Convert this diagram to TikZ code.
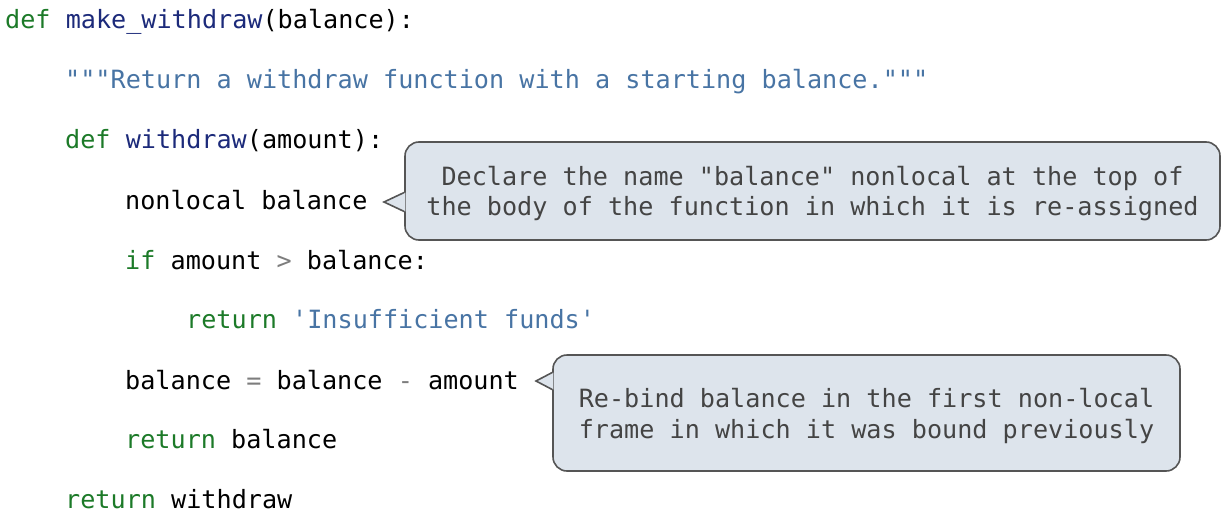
\documentclass[tikz,border=0pt]{standalone}
\usepackage{fontspec}
\setmonofont{DejaVu Sans Mono}
\usetikzlibrary{positioning}

\definecolor{kwgreen}{RGB}{28,122,40}
\definecolor{fnblue}{RGB}{28,42,122}
\definecolor{docblue}{RGB}{72,116,164}
\definecolor{opgrey}{RGB}{125,125,125}
\definecolor{notefill}{RGB}{221,228,236}
\definecolor{noteline}{RGB}{85,85,85}
\definecolor{notetext}{RGB}{68,68,68}

\newcommand{\kw}[1]{\textcolor{kwgreen}{#1}}
\newcommand{\fn}[1]{\textcolor{fnblue}{#1}}
\newcommand{\doc}[1]{\textcolor{docblue}{#1}}
\newcommand{\op}[1]{\textcolor{opgrey}{#1}}
\newcommand{\codefont}{\ttfamily\fontsize{25.15}{30.5}\selectfont}

\begin{document}
\begin{tikzpicture}
        [x=1pt, y=-1pt,
        every node/.style={inner sep=0pt, font=\codefont},
        codeline/.style={anchor=base west},
        note/.style={draw=noteline, fill=notefill, line width=1.6pt,
          rounded corners=14pt},
        notetext/.style={align=center, text=notetext},
        noteedge/.style={draw=noteline, line width=1.6pt, line join=miter},
        ]
        \useasboundingbox (0,0) rectangle (1230,522);

        % code lines
        \node[codeline] (l1) at (5,28) {\kw{def} \fn{make\_withdraw}(balance):};
        \node[codeline] (l2) at (65,88) {\doc{"""Return a withdraw function with a starting balance."""}};
        \node[codeline] (l3) at (65,148) {\kw{def} \fn{withdraw}(amount):};
        \node[codeline] (l4) at (125,209) {nonlocal balance};
        \node[codeline] (l5) at (125,269) {\kw{if} amount \op{>} balance:};
        \node[codeline] (l6) at (186,328) {\kw{return} \doc{'Insufficient funds'}};
        \node[codeline] (l7) at (125,389) {balance \op{=} balance \op{-} amount};
        \node[codeline] (l8) at (125,448) {\kw{return} balance};
        \node[codeline] (l9) at (65,508) {\kw{return} withdraw};

        % callouts
        \node[note, minimum width=815pt, minimum height=98pt] (n1) at (812.5,191) {};
        \node[notetext] (n1text) at ([yshift=-2.5pt]n1.center)
          {Declare the name "balance" nonlocal at the top of\\the body of the function in which it is re-assigned};
        \coordinate (t1) at (384,202);
        \fill[notefill] ([xshift=1.2pt, yshift=9.5pt]n1.west |- t1) -- (t1)
          -- ([xshift=1.2pt, yshift=-9.5pt]n1.west |- t1) -- cycle;
        \draw[noteedge] ([yshift=9.5pt]n1.west |- t1) -- (t1) -- ([yshift=-9.5pt]n1.west |- t1);

        \node[note, minimum width=627pt, minimum height=116pt] (n2) at (866.5,413) {};
        \node[notetext] (n2text) at ([yshift=-3pt]n2.center)
          {Re-bind balance in the first non-local\\frame in which it was bound previously};
        \coordinate (t2) at (536,381);
        \fill[notefill] ([xshift=1.2pt, yshift=8.5pt]n2.west |- t2) -- (t2)
          -- ([xshift=1.2pt, yshift=-8.5pt]n2.west |- t2) -- cycle;
        \draw[noteedge] ([yshift=8.5pt]n2.west |- t2) -- (t2) -- ([yshift=-8.5pt]n2.west |- t2);
        \end{tikzpicture}
\end{document}
